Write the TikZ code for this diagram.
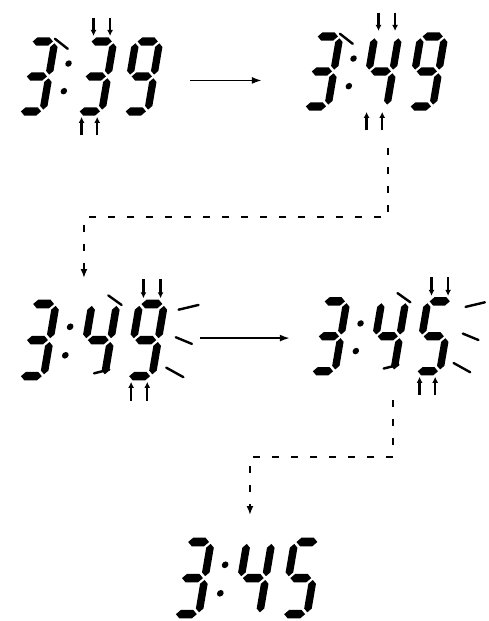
\documentclass[tikz,border=0pt]{standalone}
\usepackage{tikz}
\usetikzlibrary{arrows.meta, positioning, calc}

% one segment of an LCD digit (horizontal / vertical)
\newcommand\hseg[3]{\fill (#1,#3) -- ({#1+4.5},{#3+4.5}) -- ({#2-4.5},{#3+4.5}) -- (#2,#3) -- ({#2-4.5},{#3-4.5}) -- ({#1+4.5},{#3-4.5}) -- cycle;}
\newcommand\vseg[3]{\fill (#1,#2) -- ({#1+4},{#2+4}) -- ({#1+4},{#3-4}) -- (#1,#3) -- ({#1-4},{#3-4}) -- ({#1-4},{#2+4}) -- cycle;}
\def\lcdsega{\hseg{2}{24}{76}}
\def\lcdsegb{\vseg{26}{40}{74}}
\def\lcdsegc{\vseg{26}{2}{36}}
\def\lcdsegd{\hseg{2}{24}{0}}
\def\lcdsege{\vseg{0}{2}{36}}
\def\lcdsegf{\vseg{0}{40}{74}}
\def\lcdsegg{\hseg{2}{24}{38}}

% clock display: scale, name, origin, hour, tens, units
\newcommand\lcdclock[6]{%
  \begin{scope}[shift={#3}, scale=#1]
    \node[display, transform shape] (#2) at (76.8,38) {};
    \coordinate (#2-1) at (0,0);
    \coordinate (#2-2) at (64,0);
    \coordinate (#2-3) at (114,0);
    \begin{scope}[xslant=0.17]
      \pic[transform shape] at (0,0) {lcd digit={#4}};
      \fill (45,22) circle (3.5) (45,52) circle (3.5);
      \pic[transform shape] at (64,0) {lcd digit={#5}};
      \pic[transform shape] at (114,0) {lcd digit={#6}};
    \end{scope}
  \end{scope}}

\tikzset{
    lcd digit/.pic={\foreach \s in {#1} {\csname lcdseg\s\endcsname}},
    blink/.pic={
        \draw[tick] (17,102) -- (17,82);
        \draw[tick] (35,102) -- (35,82);
        \draw[tick] (4,-26) -- (4,-6);
        \draw[tick] (21,-26) -- (21,-6);
    },
    flash/.pic={
        \draw[ray] (-20,85) -- (-6,75);
        \draw[ray] (54,70) -- (75,75);
        \draw[ray] (51,41) -- (68,34);
        \draw[ray] (41,9) -- (59,-1);
        \draw[ray] (-35,3) -- (-19,7);
    },
    flash tl/.pic={\draw[ray] (-25,79) -- (-11,68);},
}

\begin{document}
\begin{tikzpicture}[
    x=1pt, y=1pt,
    display/.style={rectangle, minimum width=160pt, minimum height=84pt, inner sep=0pt},
    tick/.style={-{Latex[length=6pt,width=6pt]}, line width=2.4pt},
    ray/.style={line width=2.4pt, line cap=round},
    arr/.style={-{Latex[length=10pt,width=7pt]}, line width=1.8pt},
    darr/.style={-{Latex[length=9pt,width=7pt]}, line width=2.2pt, dash pattern=on 7pt off 12pt},
]
\useasboundingbox (0,0) rectangle (488,621);

% ========== ROW 1: 3:39 -> 3:49 ==========
\lcdclock{.92}{a}{(19,509.6)}{a,b,c,d,g}{a,b,c,d,g}{a,b,c,d,f,g}
\lcdclock{.92}{b}{(304,514.6)}{a,b,c,d,g}{b,c,f,g}{a,b,c,d,f,g}
\pic[scale=.92] at (a-2) {blink};
\pic[scale=.92] at (a-2) {flash tl};
\pic[scale=.92] at (b-2) {blink};
\pic[scale=.92] at (b-2) {flash tl};

\draw[arr] ($(a.east)+(27,-4)$) -- ($(a.east -| b.west)+(-39,-4)$);

% ========== ROW 2: 3:49 -> 3:45 (units blinking) ==========
\lcdclock{.95}{c}{(19,244.8)}{a,b,c,d,g}{b,c,f,g}{a,b,c,d,f,g}
\lcdclock{.92}{d}{(311,249.7)}{a,b,c,d,g}{b,c,f,g}{a,c,d,f,g}
\pic[scale=.95] at (c-3) {blink};
\pic[scale=.95] at (c-3) {flash};
\pic[scale=.92] at (d-3) {blink};
\pic[scale=.92] at (d-3) {flash};

\draw[arr] ($(c.east)+(32,2)$) -- ($(c.east -| d.west)+(-18,2)$);

% ========== ROW 3: 3:45 ==========
\lcdclock{.95}{e}{(174,6.8)}{a,b,c,d,g}{b,c,f,g}{a,c,d,f,g}

% ========== DASHED LINKS ==========
\draw[darr, shorten <=38pt, shorten >=22pt] ([xshift=13pt]b.south) -- ++(0,-107) -| ([xshift=-8pt]c.north);
\draw[darr, shorten <=25pt, shorten >=23pt] ([xshift=11pt]d.south) -- ++(0,-82) -| ([xshift=3pt]e.north);

\end{tikzpicture}
\end{document}
